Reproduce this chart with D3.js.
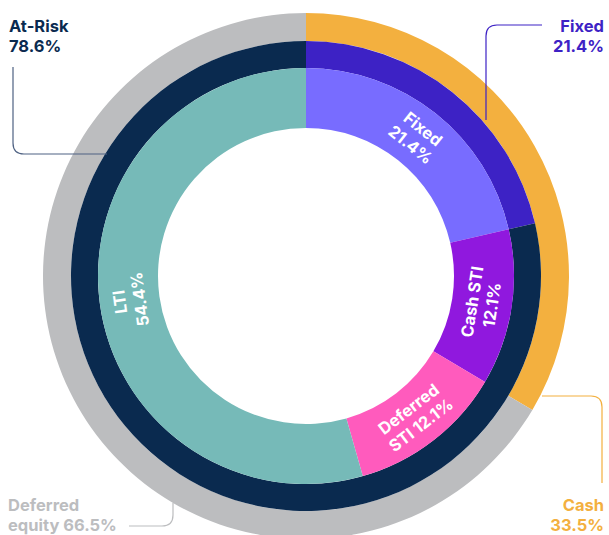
<!DOCTYPE html>
<html>
<head>
<meta charset="utf-8">
<script src="https://cdn.jsdelivr.net/npm/d3@7"></script>
<style>
  html, body { margin: 0; padding: 0; background: #fff; }
  svg { display: block; font-family: Inter, "Noto Sans", sans-serif; }
</style>
</head>
<body>
<div id="chart"></div>
<script>
// outer ring: how pay is delivered
var outerNames = ["Cash", "Deferred equity"];
var outerValues = [33.5, 66.5];
// middle ring: fixed vs at-risk
var midNames = ["Fixed", "At-Risk"];
var midValues = [21.4, 78.6];
// inner ring: components
var innerNames = ["Fixed", "Cash STI", "Deferred STI", "LTI"];
var innerValues = [21.4, 12.1, 12.1, 54.4];
var innerLabels = [["Fixed", "21.4%"], ["Cash STI", "12.1%"], ["Deferred", "STI 12.1%"], ["LTI", "54.4%"]];

var width = 609, height = 535;
var cx = 306, cy = 276;

var outerColors = ["#f3b03f", "#bcbdbf"];
var midColors = ["#3d22c5", "#0a2a4f"];
var innerColors = ["#786cff", "#9018de", "#ff5bbd", "#76bab8"];

var svg = d3.select("#chart")
  .append("svg")
  .attr("width", width)
  .attr("height", height);

var g = svg.append("g")
  .attr("transform", "translate(" + cx + "," + cy + ")");

var pie = d3.pie().sort(null).value(function(d) { return d; });

function ring(values, colors, r0, r1, cls) {
  var arc = d3.arc().innerRadius(r0).outerRadius(r1);
  g.append("g").attr("class", cls)
    .selectAll("path")
    .data(pie(values))
    .enter()
    .append("path")
    .attr("d", arc)
    .attr("fill", function(d, i) { return colors[i]; });
  return arc;
}

ring(outerValues, outerColors, 235, 263, "ring-outer");
ring(midValues, midColors, 208, 235, "ring-mid");
var innerArc = ring(innerValues, innerColors, 148, 208, "ring-inner");

// labels inside inner ring, turned along the ring
var labelG = g.append("g").attr("class", "inner-labels");
pie(innerValues).forEach(function(d, i) {
  var c = innerArc.centroid(d);
  var a = (d.startAngle + d.endAngle) / 2 * 180 / Math.PI;
  var rot = a <= 90 ? a : (a <= 180 ? a - 180 : a - 360);
  var t = labelG.append("text")
    .attr("transform", "translate(" + c + ") rotate(" + rot + ")")
    .attr("text-anchor", "middle")
    .attr("fill", "#fff")
    .attr("font-size", "16.5px")
    .attr("font-weight", 700);
  innerLabels[i].forEach(function(line, j) {
    t.append("tspan")
      .attr("x", 0)
      .attr("y", (j - 0.5) * 20 + 6)
      .text(line);
  });
});

// outside callouts
var callouts = [
  { lines: [midNames[1], midValues[1] + "%"], color: "#0a2a4f", line: "#4f6283", x: 9, y: 32, anchor: "start",
    path: "M13,67 V143 Q13,154 24,154 H107" },
  { lines: [midNames[0], midValues[0] + "%"], color: "#3d22c5", line: "#3d22c5", x: 604, y: 32, anchor: "end",
    path: "M542,25 H497 Q486,25 486,36 V120" },
  { lines: [outerNames[0], outerValues[0] + "%"], color: "#f3b03f", line: "#f3b03f", x: 604, y: 511, anchor: "end",
    path: "M542,396 H591 Q602,396 602,407 V483" },
  { lines: ["Deferred", "equity " + outerValues[1] + "%"], color: "#bcbdbf", line: "#bcbdbf", x: 8, y: 511, anchor: "start",
    path: "M129,526 H162 Q173,526 173,515 V503" }
];

callouts.forEach(function(c) {
  svg.append("path")
    .attr("d", c.path)
    .attr("fill", "none")
    .attr("stroke", c.line)
    .attr("stroke-width", 1.2);
  var t = svg.append("text")
    .attr("text-anchor", c.anchor)
    .attr("fill", c.color)
    .attr("font-size", "16.5px")
    .attr("font-weight", 700);
  c.lines.forEach(function(line, j) {
    t.append("tspan")
      .attr("x", c.x)
      .attr("y", c.y + j * 20)
      .text(line);
  });
});
</script>
</body>
</html>
